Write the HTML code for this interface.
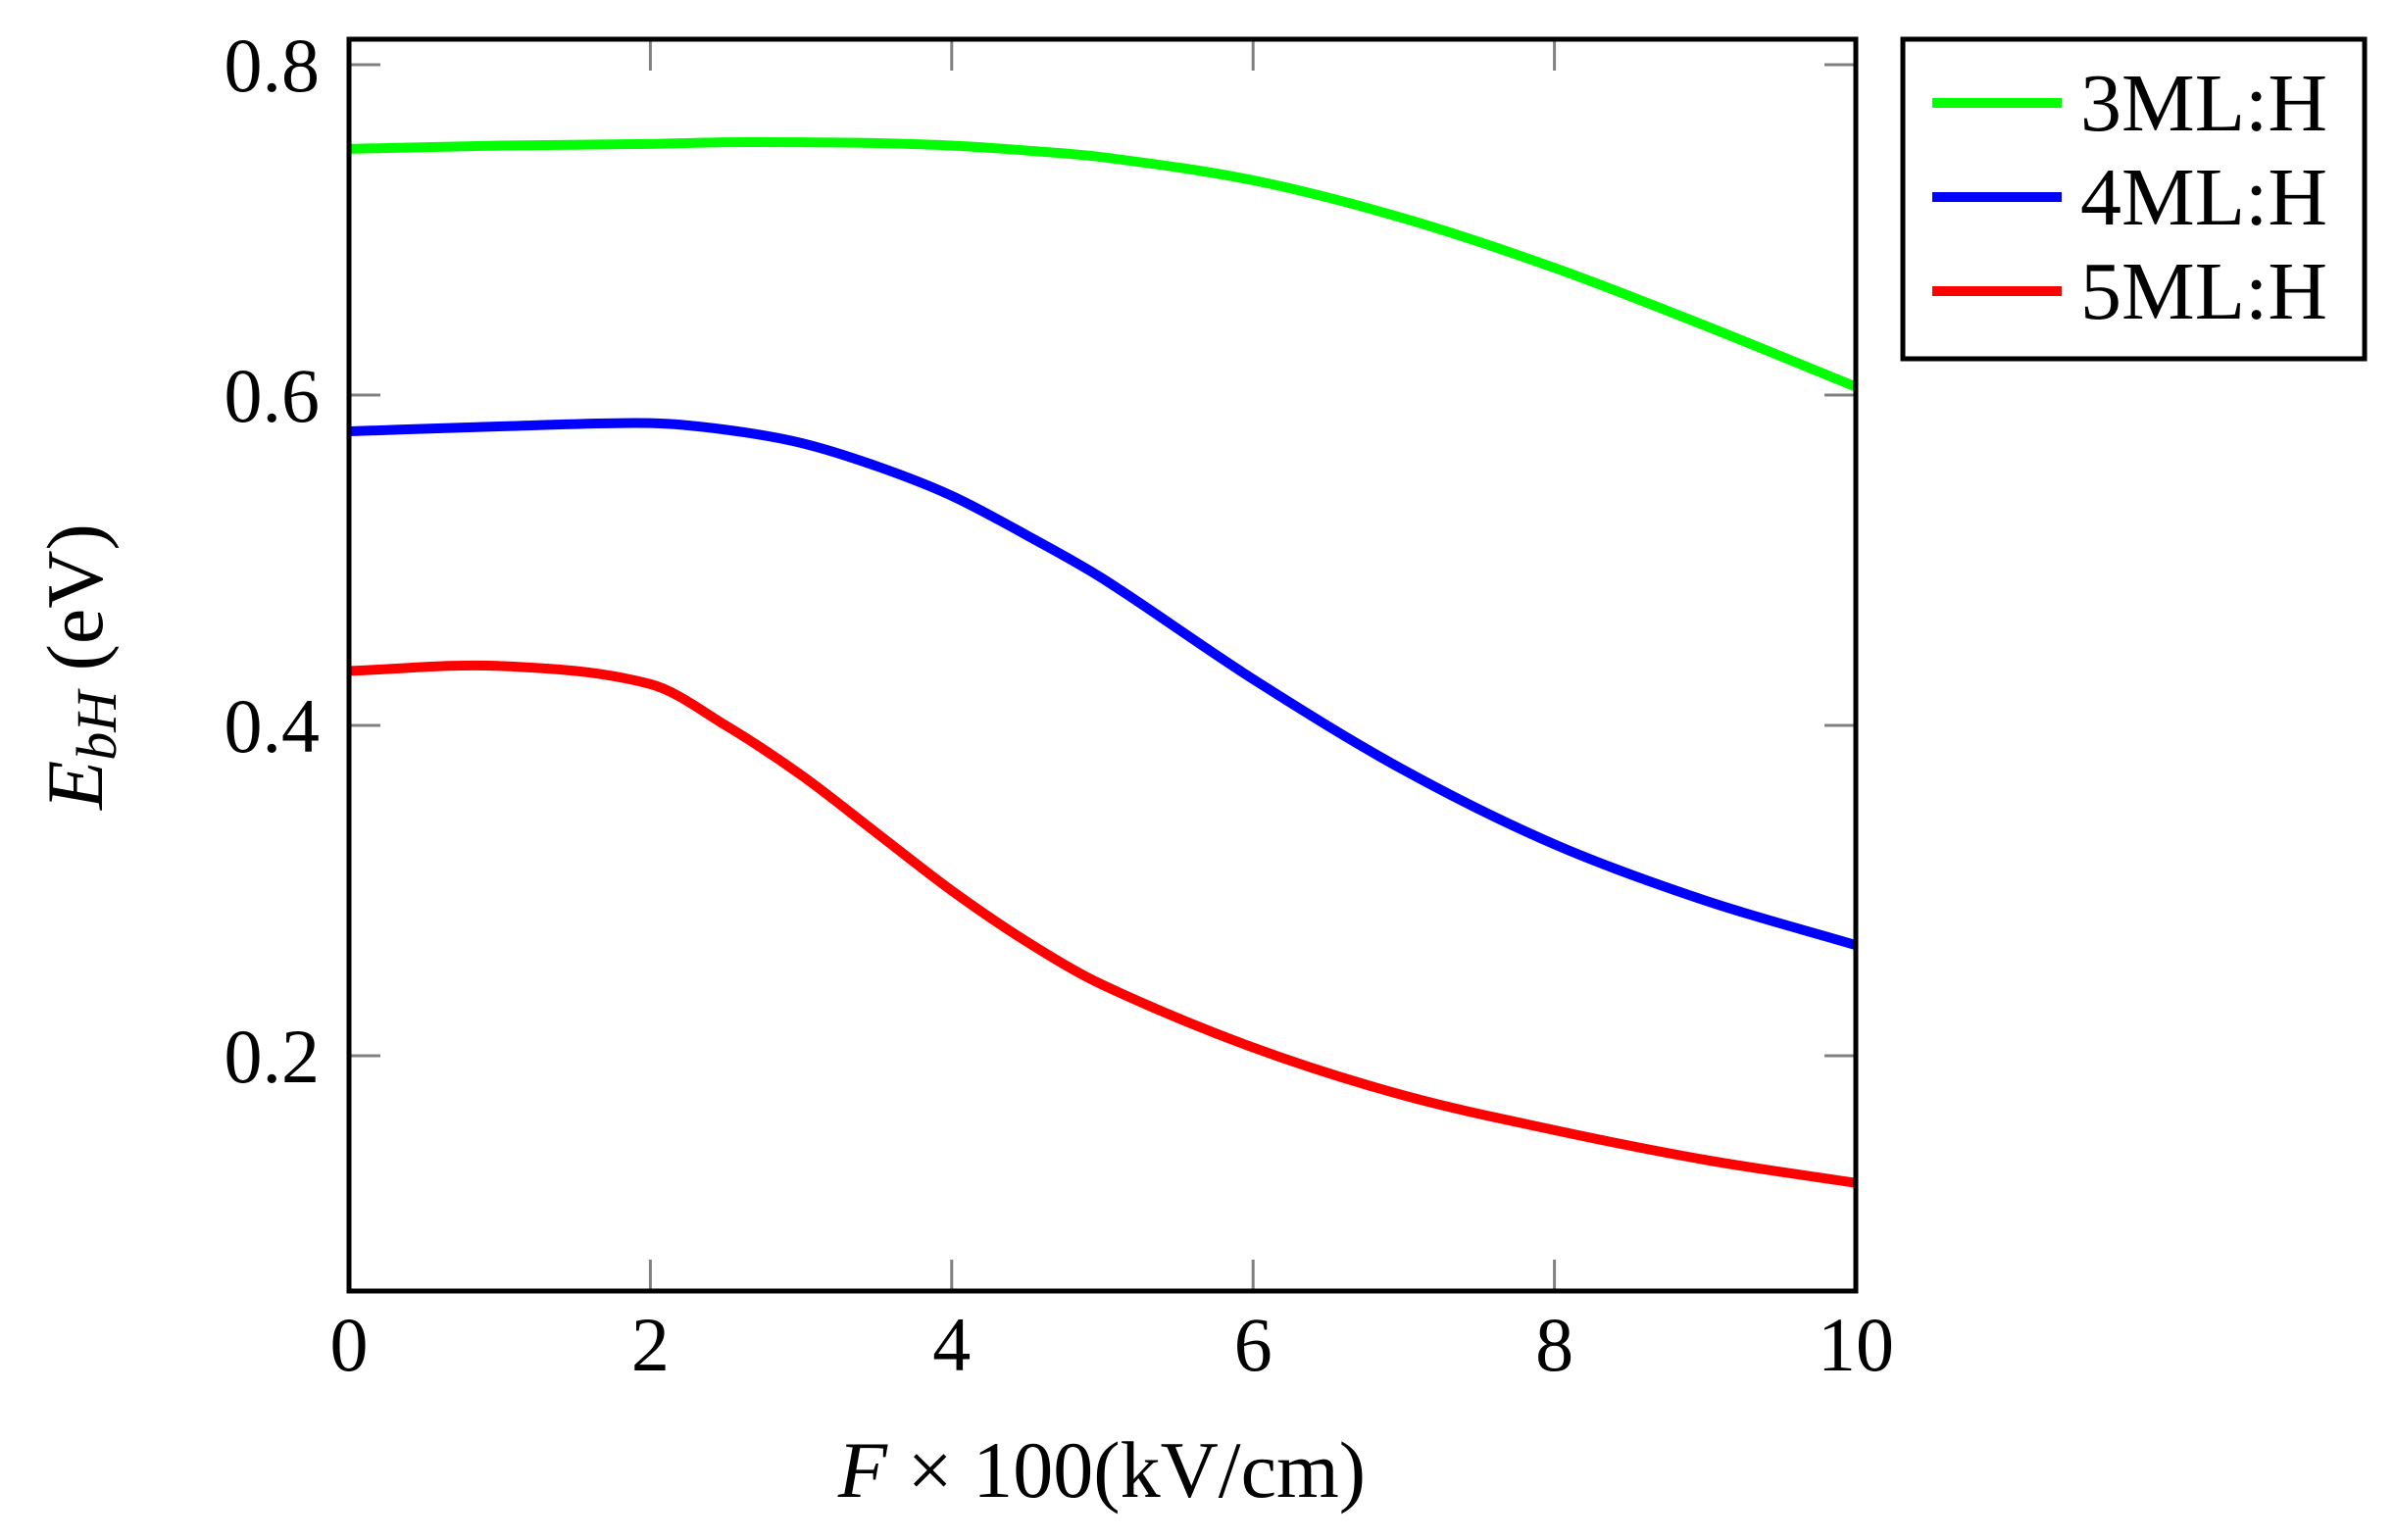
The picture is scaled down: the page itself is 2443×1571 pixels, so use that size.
<!DOCTYPE html>
<html><head><meta charset="utf-8"><style>
html,body{margin:0;padding:0;background:#fff;}
svg{display:block;font-family:"Liberation Serif",serif;}
</style></head><body>
<svg id="chart" width="2443" height="1571" viewBox="0 0 2443 1571" xmlns="http://www.w3.org/2000/svg">
<g id="grid"></g>
<g id="series"></g>
<rect x="356" y="40" width="1537" height="1277" fill="none" stroke="#000" stroke-width="5"/>
<g id="labels"></g>
<text x="1124" y="1527" font-size="82" text-anchor="middle"><tspan font-style="italic">F</tspan> × 100(kV/cm)</text>
<text transform="translate(104,680) rotate(-90)" font-size="82" text-anchor="middle"><tspan font-style="italic">E</tspan><tspan font-style="italic" font-size="58" dy="14">bH</tspan><tspan dy="-14"> (eV)</tspan></text>
<g>
<rect x="1941" y="40" width="471" height="326" fill="#fff" stroke="#000" stroke-width="5"/>
<g id="legend-items"></g>
</g>
</svg>
<script>
const xValues=[0,1,2,2.5,3,3.5,4,4.5,5,6,7,8,9,10];
const series3ML=[0.749,0.751,0.752,0.753,0.753,0.7525,0.751,0.748,0.744,0.730,0.707,0.677,0.642,0.605];
const series4ML=[0.578,0.581,0.583,0.579,0.571,0.557,0.539,0.515,0.489,0.428,0.373,0.328,0.294,0.267];
const series5ML=[0.433,0.436,0.425,0.400,0.370,0.335,0.300,0.269,0.243,0.205,0.176,0.155,0.137,0.123];
const seriesNames=["3ML:H","4ML:H","5ML:H"];
const xTicks=[0,2,4,6,8,10];
const yTicks=[0.2,0.4,0.6,0.8];
const yTickLabels=["0.2","0.4","0.6","0.8"];

const L=356,R=1893,T=40,B=1317,XMIN=0,XMAX=10,YMIN=0.0576,YMAX=0.8154;
const sx=v=>L+(v-XMIN)/(XMAX-XMIN)*(R-L);
const sy=v=>B-(v-YMIN)/(YMAX-YMIN)*(B-T);
const NS="http://www.w3.org/2000/svg";
function mk(tag,attrs,parent){const e=document.createElementNS(NS,tag);for(const k in attrs)e.setAttribute(k,attrs[k]);parent.appendChild(e);return e;}
const grid=document.getElementById('grid'),labels=document.getElementById('labels');
xTicks.forEach(t=>{
  const x=sx(t);
  let a=mk('line',{x1:x,x2:x,y1:B,y2:B-32,stroke:'#808080','stroke-width':3},grid);
  
  
  let b=mk('line',{x1:x,x2:x,y1:T,y2:T+32,stroke:'#808080','stroke-width':3},grid);
  
  
  let tx=mk('text',{x:x,y:1398,'font-size':78,'text-anchor':'middle'},labels);
  tx.textContent=String(t);
  
  
});
yTicks.forEach((t,i)=>{
  const y=sy(t);
  let a=mk('line',{x1:L,x2:L+32,y1:y,y2:y,stroke:'#808080','stroke-width':3},grid);
  
  
  let b=mk('line',{x1:R,x2:R-32,y1:y,y2:y,stroke:'#808080','stroke-width':3},grid);
  
  
  let tx=mk('text',{x:326,y:y+27,'font-size':78,'text-anchor':'end'},labels);
  tx.textContent=yTickLabels[i];
  
  
});
function smoothPath(xs,ys){
  const p=xs.map((x,i)=>[sx(x),sy(ys[i])]);
  let d=`M${p[0][0]},${p[0][1]}`;
  for(let i=0;i<p.length-1;i++){
    const p0=p[i-1]||p[i],p1=p[i],p2=p[i+1],p3=p[i+2]||p[i+1];
    const h=p2[0]-p1[0];
    const m1=(p2[1]-p0[1])/(p2[0]-p0[0]||1), m2=(p3[1]-p1[1])/(p3[0]-p1[0]||1);
    const c1=[p1[0]+h/3,p1[1]+m1*h/3];
    const c2=[p2[0]-h/3,p2[1]-m2*h/3];
    d+=` C${c1[0]},${c1[1]} ${c2[0]},${c2[1]} ${p2[0]},${p2[1]}`;
  }
  return d;
}
const colors=['#00ff00','#0000ff','#ff0000'];
const allSeries=[series3ML,series4ML,series5ML];
const sg=document.getElementById('series');
allSeries.forEach((s,i)=>{
  const p=mk('path',{d:smoothPath(xValues,s),fill:'none',stroke:colors[i],'stroke-width':10,'stroke-linejoin':'round'},sg);
  
  
});
const lg=document.getElementById('legend-items');
seriesNames.forEach((n,i)=>{
  const y=105+i*96;
  const l=mk('line',{x1:1971,x2:2103,y1:y,y2:y,stroke:colors[i],'stroke-width':10},lg);
  
  
  const t=mk('text',{x:2122,y:y+28,'font-size':84},lg);
  t.textContent=n;
  
  
});
</script>
</body></html>
